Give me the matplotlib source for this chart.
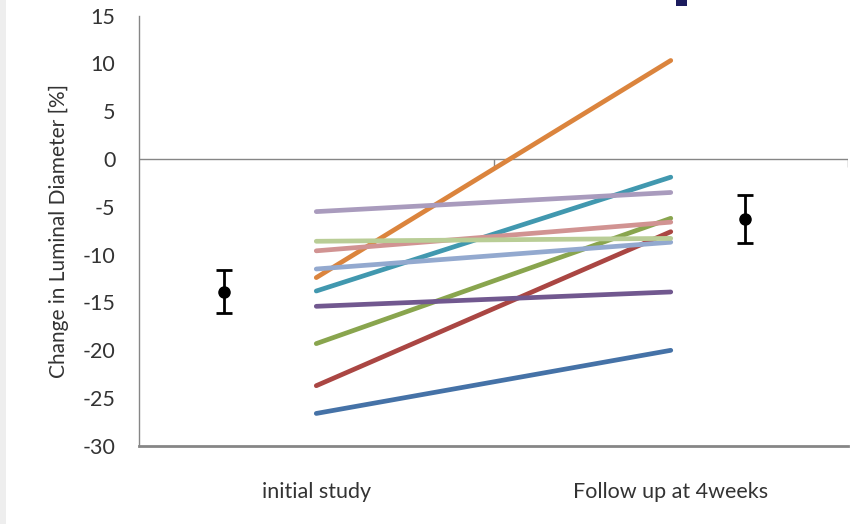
import matplotlib

matplotlib.use("Agg")
import matplotlib.pyplot as plt
from matplotlib.patches import Rectangle

plt.rcParams["font.family"] = ["Lato", "DejaVu Sans"]
plt.rcParams["axes.unicode_minus"] = False

categories = ["initial study", "Follow up at 4weeks"]

# per-vessel change in luminal diameter [%] at each visit
initial = [-26.6, -23.7, -19.3, -15.4, -13.8, -12.4, -11.5, -9.6, -8.6, -5.5]
follow_up = [-20.0, -7.6, -6.2, -13.9, -1.9, 10.3, -8.7, -6.6, -8.3, -3.5]
line_colors = [
    "#4572A7", "#AA4643", "#89A54E", "#71588F", "#4198AF",
    "#DB843D", "#93A9CF", "#D19392", "#B9CD96", "#A99BBD",
]

# group mean +/- SD, plotted beside each visit
mean_x = [0.74, 2.21]
mean_y = [-13.9, -6.3]
mean_err = [2.25, 2.5]

AXIS_GRAY = "#868686"
TEXT = "#333333"

fig = plt.figure(figsize=(8.64, 5.24), dpi=100, facecolor="white")
ax = fig.add_axes([0.1609, 0.1489, 0.8206, 0.8215])

xs = [1, 2]
for a, b, c in zip(initial, follow_up, line_colors):
    ax.plot(xs, [a, b], color=c, lw=3.4, solid_capstyle="round", zorder=3)

ax.errorbar(
    mean_x, mean_y, yerr=mean_err, fmt="o", color="black",
    ms=8, elinewidth=2.0, capsize=6, capthick=2.0, zorder=4,
)

ax.set_xlim(0.5, 2.5)
ax.set_ylim(-30, 15)
ax.set_yticks(range(-30, 16, 5))
ax.set_xticks(xs)
ax.set_xticklabels(categories)

# horizontal category axis crosses at zero
ax.axhline(0, color=AXIS_GRAY, lw=1.0, zorder=2)
ax.vlines([1.5, 2.5], -0.8, 0, color=AXIS_GRAY, lw=1.0, zorder=2)

for side in ("top", "right"):
    ax.spines[side].set_visible(False)
ax.spines["left"].set_color(AXIS_GRAY)
ax.spines["left"].set_linewidth(1.0)
ax.spines["bottom"].set_color(AXIS_GRAY)
ax.spines["bottom"].set_linewidth(2.0)

ax.tick_params(axis="y", length=0, pad=17, labelsize=15.5, labelcolor=TEXT)
ax.tick_params(axis="x", length=0, pad=26, labelsize=15.5, labelcolor=TEXT)
ax.set_ylabel("Change in Luminal Diameter [%]", fontsize=15, color=TEXT, labelpad=10)

# thin grey strip on the left edge and small navy marker at the top
fig.patches.append(Rectangle((0, 0), 6 / 864, 1, transform=fig.transFigure,
                             facecolor="#eeeeee", edgecolor="none"))
fig.patches.append(Rectangle((676 / 864, 1 - 6 / 524), 11 / 864, 6 / 524,
                             transform=fig.transFigure,
                             facecolor="#1c1c5e", edgecolor="none"))

fig.savefig("out.png", dpi=100, facecolor="white")
